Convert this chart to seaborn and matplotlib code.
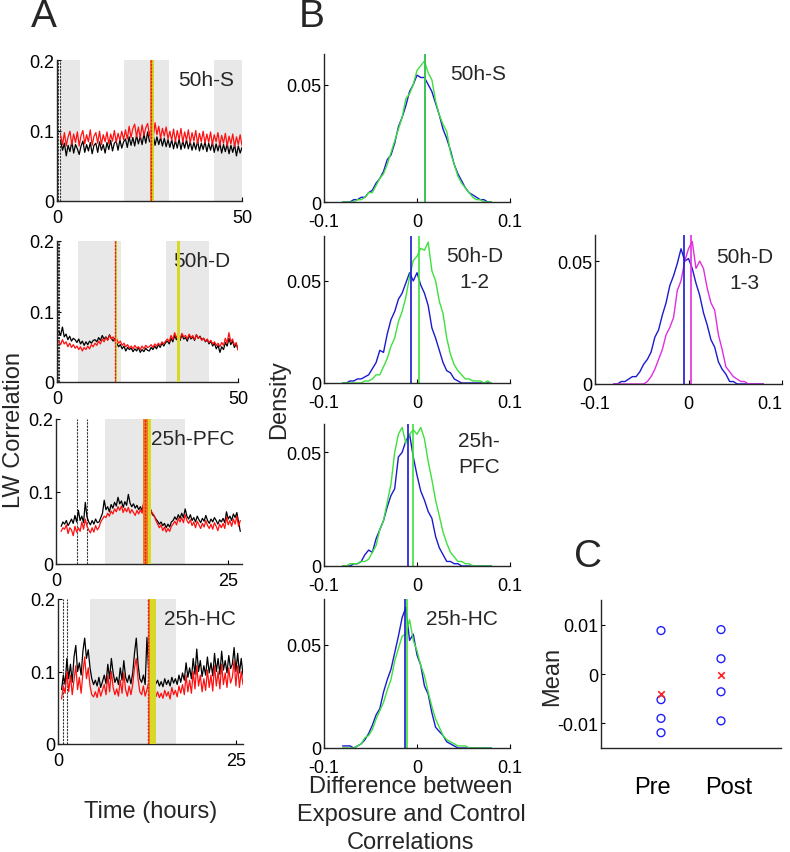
import matplotlib
matplotlib.use("Agg")
import matplotlib.pyplot as plt
import seaborn as sns
import numpy as np

# ---------------- Panel A: LW correlation time courses ----------------
a1_time = np.linspace(1, 50, 99)
a1_black = [0.085, 0.072, 0.082, 0.064, 0.079, 0.070, 0.084, 0.068, 0.080, 0.074,
            0.066, 0.078, 0.085, 0.069, 0.080, 0.071, 0.083, 0.067, 0.079, 0.082,
            0.069, 0.084, 0.072, 0.080, 0.068, 0.083, 0.073, 0.086, 0.071, 0.082,
            0.085, 0.072, 0.087, 0.075, 0.084,
            0.088, 0.076, 0.091, 0.079, 0.090, 0.078, 0.093, 0.081, 0.092, 0.080,
            0.095, 0.082, 0.098, 0.084, 0.089, 0.093, 0.079, 0.091, 0.080, 0.090,
            0.078, 0.089, 0.077, 0.087,
            0.076, 0.087, 0.074, 0.086, 0.075, 0.088, 0.073, 0.085, 0.075, 0.087,
            0.074, 0.084, 0.072, 0.083, 0.073, 0.085, 0.071, 0.082, 0.073, 0.084,
            0.070, 0.082, 0.072, 0.083, 0.069, 0.081, 0.071, 0.082, 0.068, 0.080,
            0.070, 0.081, 0.067, 0.079, 0.069, 0.080, 0.064, 0.078, 0.068, 0.076]
a1_red = [0.093, 0.080, 0.097, 0.078, 0.091, 0.099, 0.080, 0.095, 0.083, 0.098,
          0.078, 0.093, 0.100, 0.081, 0.094, 0.084, 0.101, 0.079, 0.092, 0.097,
          0.082, 0.099, 0.080, 0.094, 0.084, 0.098, 0.081, 0.095, 0.085, 0.100,
          0.083, 0.096, 0.086, 0.099, 0.087,
          0.101, 0.088, 0.106, 0.090, 0.103, 0.109, 0.091, 0.105, 0.089, 0.108,
          0.093, 0.104, 0.110, 0.092, 0.107, 0.090, 0.111, 0.094, 0.106, 0.089,
          0.103, 0.092, 0.105, 0.088,
          0.099, 0.086, 0.102, 0.084, 0.100, 0.087, 0.103, 0.083, 0.098, 0.086,
          0.101, 0.082, 0.097, 0.085, 0.100, 0.081, 0.096, 0.084, 0.099, 0.082,
          0.095, 0.083, 0.098, 0.080, 0.094, 0.084, 0.097, 0.079, 0.093, 0.082,
          0.096, 0.078, 0.092, 0.081, 0.095, 0.077, 0.091, 0.080, 0.094, 0.079]

a2_time = np.linspace(0.5, 50, 100)
a2_black = [0.072, 0.066, 0.078, 0.064, 0.068, 0.060, 0.065, 0.058, 0.062, 0.060,
            0.056, 0.061, 0.054, 0.058, 0.052, 0.057, 0.053, 0.058, 0.055, 0.059,
            0.060, 0.057, 0.063, 0.059, 0.066, 0.061, 0.064, 0.060, 0.067, 0.062,
            0.058, 0.062, 0.055, 0.050, 0.053, 0.047, 0.051, 0.044, 0.049, 0.046,
            0.048, 0.043, 0.047, 0.044, 0.049, 0.042, 0.046, 0.043, 0.048, 0.045,
            0.044, 0.049, 0.046, 0.051, 0.047, 0.053, 0.049, 0.055, 0.051, 0.056,
            0.058, 0.054, 0.062, 0.057, 0.066, 0.060, 0.064, 0.059, 0.067, 0.061,
            0.063, 0.058, 0.066, 0.061, 0.064, 0.059, 0.067, 0.062, 0.065, 0.060,
            0.062, 0.057, 0.060, 0.054, 0.058, 0.051, 0.055, 0.047, 0.052, 0.042,
            0.050, 0.046, 0.056, 0.051, 0.062, 0.053, 0.058, 0.049, 0.054, 0.047]
a2_red = [0.058, 0.053, 0.060, 0.054, 0.057, 0.050, 0.055, 0.049, 0.053, 0.048,
          0.051, 0.046, 0.050, 0.044, 0.049, 0.046, 0.051, 0.047, 0.053, 0.050,
          0.055, 0.052, 0.058, 0.054, 0.061, 0.057, 0.063, 0.059, 0.066, 0.061,
          0.064, 0.058, 0.061, 0.055, 0.058, 0.052, 0.055, 0.050, 0.053, 0.048,
          0.051, 0.047, 0.052, 0.048, 0.050, 0.046, 0.051, 0.047, 0.052, 0.049,
          0.050, 0.053, 0.049, 0.054, 0.051, 0.055, 0.052, 0.057, 0.054, 0.058,
          0.061, 0.057, 0.066, 0.060, 0.070, 0.063, 0.067, 0.061, 0.069, 0.064,
          0.066, 0.061, 0.068, 0.063, 0.066, 0.060, 0.067, 0.062, 0.064, 0.059,
          0.062, 0.058, 0.061, 0.056, 0.059, 0.054, 0.057, 0.052, 0.055, 0.050,
          0.056, 0.052, 0.062, 0.055, 0.070, 0.057, 0.061, 0.052, 0.056, 0.045]

a3_time = np.linspace(0.75, 26.75, 105)
a3_black = [0.052, 0.058,
            0.055, 0.060, 0.053, 0.057, 0.062, 0.056, 0.067, 0.058, 0.074, 0.060, 0.066, 0.057,
            0.085, 0.065, 0.058, 0.054, 0.060, 0.055, 0.062, 0.057, 0.058, 0.064, 0.070, 0.088,
            0.075, 0.079, 0.072, 0.082, 0.077, 0.085, 0.080, 0.092, 0.083, 0.087, 0.078, 0.086,
            0.081, 0.096, 0.084, 0.079, 0.083, 0.077, 0.081, 0.075, 0.079, 0.074, 0.083, 0.072,
            0.078, 0.070, 0.075, 0.068, 0.066, 0.062, 0.059, 0.055, 0.058, 0.053, 0.056, 0.050,
            0.055, 0.051, 0.058, 0.060, 0.065, 0.061, 0.068, 0.063, 0.070, 0.064, 0.076, 0.066,
            0.062, 0.068, 0.060, 0.064, 0.058, 0.066, 0.061, 0.057, 0.063, 0.059, 0.067, 0.060,
            0.056, 0.062, 0.058, 0.064, 0.060, 0.055, 0.061, 0.058, 0.063, 0.057, 0.072, 0.062,
            0.066, 0.060, 0.069, 0.064, 0.071, 0.058, 0.045]
a3_red = [0.045, 0.050,
          0.048, 0.054, 0.042, 0.050, 0.047, 0.039, 0.052, 0.044, 0.050, 0.045, 0.058, 0.048,
          0.062, 0.052, 0.047, 0.043, 0.050, 0.044, 0.053, 0.047, 0.051, 0.058, 0.062, 0.066,
          0.064, 0.070, 0.066, 0.073, 0.069, 0.076, 0.072, 0.079, 0.074, 0.080, 0.071, 0.077,
          0.072, 0.078, 0.070, 0.075, 0.071, 0.067, 0.074, 0.069, 0.075, 0.070, 0.088, 0.102,
          0.085, 0.078, 0.074, 0.070, 0.067, 0.060, 0.055, 0.050, 0.054, 0.046, 0.051, 0.044,
          0.049, 0.045, 0.052, 0.055, 0.059, 0.054, 0.063, 0.058, 0.064, 0.057, 0.068, 0.060,
          0.056, 0.061, 0.053, 0.058, 0.050, 0.059, 0.054, 0.049, 0.056, 0.051, 0.060, 0.053,
          0.049, 0.055, 0.048, 0.057, 0.052, 0.046, 0.055, 0.050, 0.056, 0.049, 0.065, 0.054,
          0.060, 0.052, 0.062, 0.055, 0.066, 0.052, 0.060]

a4_time = np.linspace(0.5, 26, 103)
a4_black = [0.075, 0.095, 0.082, 0.118, 0.090, 0.110, 0.085, 0.120, 0.136, 0.100, 0.112, 0.095,
            0.128, 0.146, 0.118, 0.130, 0.105, 0.090, 0.082, 0.088, 0.080, 0.092, 0.078, 0.086,
            0.095, 0.083, 0.110, 0.090, 0.118, 0.098, 0.085, 0.092, 0.082, 0.105, 0.088, 0.115,
            0.092, 0.085, 0.095, 0.083, 0.098, 0.125, 0.146, 0.110, 0.090, 0.085, 0.095, 0.082,
            0.147, 0.100, 0.088, 0.131, 0.095, 0.083, 0.088, 0.080, 0.086, 0.079, 0.090, 0.082,
            0.088, 0.080, 0.092, 0.084, 0.090, 0.082, 0.095, 0.085, 0.098, 0.088, 0.112, 0.092,
            0.105, 0.090, 0.118, 0.096, 0.131, 0.100, 0.115, 0.093, 0.108, 0.095, 0.120, 0.098,
            0.112, 0.094, 0.125, 0.100, 0.118, 0.096, 0.128, 0.102, 0.115, 0.098, 0.122, 0.104,
            0.110, 0.133, 0.100, 0.125, 0.098, 0.118, 0.095]
a4_red = [0.062, 0.080, 0.070, 0.100, 0.072, 0.095, 0.068, 0.088, 0.108, 0.075, 0.092, 0.070,
          0.098, 0.120, 0.090, 0.105, 0.080, 0.068, 0.065, 0.072, 0.064, 0.078, 0.066, 0.074,
          0.082, 0.068, 0.095, 0.072, 0.100, 0.078, 0.068, 0.076, 0.066, 0.088, 0.070, 0.098,
          0.075, 0.066, 0.080, 0.068, 0.082, 0.105, 0.118, 0.090, 0.072, 0.068, 0.080, 0.066,
          0.075, 0.085, 0.070, 0.098, 0.078, 0.065, 0.072, 0.064, 0.070, 0.063, 0.074, 0.066,
          0.072, 0.062, 0.078, 0.068, 0.074, 0.065, 0.080, 0.070, 0.082, 0.068, 0.095, 0.072,
          0.088, 0.070, 0.100, 0.076, 0.108, 0.080, 0.095, 0.072, 0.090, 0.074, 0.102, 0.078,
          0.095, 0.073, 0.108, 0.080, 0.100, 0.076, 0.110, 0.082, 0.098, 0.078, 0.105, 0.084,
          0.092, 0.115, 0.080, 0.108, 0.078, 0.100, 0.082]

# shaded periods, recording markers and exposure bands (hours)
a_labels = ["50h-S", "50h-D", "25h-PFC", "25h-HC"]
a_xmax = [50, 50, 27, 26]
a_xtick_max = [50, 50, 25, 25]
a_gray = [[(0.8, 6.2), (18.1, 30.3), (42.4, 50)],
          [(5.8, 17.7), (30.1, 42.0)],
          [(7.1, 18.75)],
          [(4.5, 16.6)]]
a_dashed = [[0.4, 0.9], [0.2, 0.5], [3.0, 4.5], [0.75, 1.22]]
a_red_band = [[(25.1, 25.7)], [(15.9, 16.3)], [(12.7, 13.3)], [(12.6, 12.9)]]
a_yellow_band = [[(25.7, 26.2)], [(16.3, 16.6), (33.1, 34.0)], [(13.3, 13.8)], [(12.9, 13.8)]]

# ---------------- Panel B: density of correlation differences ----------------
diff_grid = np.linspace(-0.08, 0.08, 41)
b1_blue = [0, 0, 0, 0.001, 0.001, 0.002, 0.002, 0.004, 0.005, 0.008, 0.010, 0.013, 0.018, 0.020, 0.025, 0.032,
           0.036, 0.041, 0.047, 0.050, 0.054, 0.053, 0.053, 0.050, 0.047, 0.042, 0.037, 0.031, 0.027, 0.022,
           0.016, 0.012, 0.009, 0.006, 0.004, 0.003, 0.002, 0.001, 0.001, 0, 0]
b1_green = [0, 0, 0, 0, 0.001, 0.001, 0.002, 0.004, 0.004, 0.007, 0.010, 0.012, 0.016, 0.021, 0.026, 0.031,
            0.036, 0.044, 0.046, 0.050, 0.056, 0.058, 0.060, 0.055, 0.052, 0.043, 0.037, 0.033, 0.030, 0.021,
            0.016, 0.011, 0.008, 0.006, 0.004, 0.002, 0.001, 0.001, 0, 0, 0]
b2_blue = [0, 0, 0.001, 0.001, 0.002, 0.002, 0.003, 0.004, 0.007, 0.010, 0.016, 0.015, 0.024, 0.031, 0.035,
           0.041, 0.044, 0.049, 0.054, 0.050, 0.054, 0.048, 0.044, 0.038, 0.027, 0.022, 0.016, 0.010, 0.006,
           0.005, 0.002, 0.001, 0, 0, 0, 0, 0, 0, 0, 0, 0]
b2_green = [0, 0, 0, 0, 0, 0, 0.001, 0.001, 0.002, 0.004, 0.004, 0.008, 0.012, 0.018, 0.022, 0.030, 0.035,
            0.042, 0.052, 0.060, 0.062, 0.066, 0.065, 0.069, 0.055, 0.050, 0.040, 0.034, 0.022, 0.014, 0.009,
            0.006, 0.004, 0.002, 0.002, 0.001, 0.001, 0.001, 0, 0.001, 0]
b3_blue = [0, 0, 0, 0.001, 0.001, 0.002, 0.005, 0.007, 0.006, 0.012, 0.016, 0.020, 0.026, 0.031, 0.034, 0.048,
           0.050, 0.055, 0.058, 0.048, 0.040, 0.033, 0.029, 0.024, 0.021, 0.013, 0.008, 0.005, 0.002, 0.002,
           0.001, 0.001, 0, 0, 0, 0, 0, 0, 0, 0, 0]
b3_green = [0, 0, 0.001, 0.001, 0.001, 0.002, 0.002, 0.003, 0.006, 0.009, 0.016, 0.020, 0.028, 0.036, 0.050,
            0.058, 0.061, 0.054, 0.058, 0.060, 0.058, 0.061, 0.056, 0.046, 0.038, 0.029, 0.022, 0.015, 0.010,
            0.006, 0.004, 0.002, 0.002, 0.001, 0.001, 0, 0, 0, 0, 0, 0]
b4_blue = [0.001, 0.001, 0.001, 0, 0.001, 0.002, 0.004, 0.007, 0.011, 0.016, 0.019, 0.027, 0.033, 0.038, 0.046,
           0.054, 0.063, 0.068, 0.052, 0.055, 0.045, 0.040, 0.030, 0.026, 0.017, 0.010, 0.008, 0.006, 0.003,
           0.002, 0.001, 0, 0, 0, 0, 0, 0, 0, 0, 0, 0]
b4_green = [0, 0, 0, 0, 0.001, 0.002, 0.005, 0.006, 0.009, 0.014, 0.018, 0.022, 0.028, 0.033, 0.042, 0.048,
            0.054, 0.055, 0.062, 0.052, 0.047, 0.040, 0.035, 0.027, 0.020, 0.014, 0.010, 0.006, 0.004, 0.003,
            0.002, 0.001, 0.001, 0.001, 0, 0, 0, 0, 0, 0, 0]
b5_blue = [0, 0, 0.001, 0.001, 0.002, 0.003, 0.003, 0.005, 0.008, 0.010, 0.013, 0.019, 0.022, 0.028, 0.033,
           0.040, 0.044, 0.049, 0.055, 0.050, 0.051, 0.047, 0.041, 0.036, 0.029, 0.024, 0.018, 0.015, 0.009,
           0.006, 0.004, 0.001, 0.001, 0, 0, 0, 0, 0, 0, 0, 0]
b5_magenta = [0, 0, 0, 0, 0, 0, 0, 0, 0, 0.001, 0.003, 0.006, 0.010, 0.014, 0.020, 0.023, 0.027, 0.038, 0.042,
              0.050, 0.055, 0.058, 0.047, 0.050, 0.047, 0.039, 0.033, 0.030, 0.020, 0.014, 0.007, 0.005, 0.003,
              0.002, 0.001, 0.001, 0, 0, 0, 0, 0]

# mean lines for each distribution
b_means = {"b1": (0.0087, 0.0087), "b2": (-0.0065, 0.002), "b3": (-0.010, -0.004),
           "b4": (-0.013, -0.011), "b5": (-0.005, 0.003)}
b_ytop = {"b1": 0.063, "b2": 0.072, "b3": 0.0625, "b4": 0.072, "b5": 0.0606}

# ---------------- Panel C: means pre / post ----------------
c_groups = ["Pre", "Post"]
c_pre = [0.0088, -0.0052, -0.0090, -0.0119]
c_post = [0.0090, 0.0031, -0.0036, -0.0095]
c_pre_mean = -0.0041
c_post_mean = -0.0002

# ---------------- style ----------------
sns.set_style("ticks")
plt.rcParams['font.family'] = ['Liberation Sans', 'DejaVu Sans']
plt.rcParams['axes.linewidth'] = 1.0

W, H = 790, 853
fig = plt.figure(figsize=(W / 100, H / 100), dpi=100)

BLUE = "#1a1ad0"
GREEN = "#3ee03e"
MAGENTA = "#e02ee0"
RED = "#ff1010"
YELLOW = "#d8d828"
ORANGE = "#f07a20"
GRAY = "#e8e8e8"


def add_ax(left, top, right, bottom):
    return fig.add_axes([left / W, 1 - bottom / H, (right - left) / W, (bottom - top) / H])


def style_ax(ax, xpad=6):
    sns.despine(ax=ax)
    ax.tick_params(direction='in', length=3, labelsize=13, pad=2, colors='black')
    ax.tick_params(axis='x', pad=xpad)
    ax.set_xlabel('')
    ax.set_ylabel('')


# Panel A
a_boxes = [(57, 61, 242, 202), (57, 242, 238, 383), (56, 420, 242, 565), (58, 600, 243, 745)]
a_data = [(a1_time, a1_black, a1_red), (a2_time, a2_black, a2_red),
          (a3_time, a3_black, a3_red), (a4_time, a4_black, a4_red)]
for i in range(4):
    ax = add_ax(*a_boxes[i])
    for lo, hi in a_gray[i]:
        ax.axvspan(lo, hi, color=GRAY, lw=0, zorder=0)
    for xd in a_dashed[i]:
        ax.axvline(xd, color='#333333', lw=0.8, ls=(0, (2, 1)), zorder=1)
    t, blk, red = a_data[i]
    sns.lineplot(x=t, y=blk, ax=ax, color='black', lw=0.9, estimator=None, zorder=2)
    sns.lineplot(x=t, y=red, ax=ax, color=RED, lw=0.9, estimator=None, zorder=3)
    for lo, hi in a_yellow_band[i]:
        ax.axvspan(lo, hi, color=YELLOW, lw=0, zorder=4)
    for lo, hi in a_red_band[i]:
        ax.axvspan(lo, hi, color=ORANGE, lw=0, zorder=4)
        ax.axvline(lo + (hi - lo) * 0.35, color='#e02010', lw=1.0, ls=(0, (1.5, 1)), zorder=5)
    ax.set_xlim(0, a_xmax[i])
    ax.set_ylim(0, 0.2)
    ax.set_xticks([0, a_xtick_max[i]])
    ax.set_xticklabels(['0', str(a_xtick_max[i])])
    ax.set_yticks([0, 0.1, 0.2])
    ax.set_yticklabels(['0', '0.1', '0.2'])
    style_ax(ax)
    ax.text(0.96, 0.93, a_labels[i], transform=ax.transAxes, ha='right', va='top', fontsize=15)

# Panel B
b_boxes = {"b1": (324, 55, 510, 203), "b2": (324, 237, 510, 384), "b3": (324, 425, 510, 567),
           "b4": (324, 600, 510, 749), "b5": (595, 236, 782, 385)}
b_curves = {"b1": (b1_blue, b1_green, GREEN), "b2": (b2_blue, b2_green, GREEN),
            "b3": (b3_blue, b3_green, GREEN), "b4": (b4_blue, b4_green, GREEN),
            "b5": (b5_blue, b5_magenta, MAGENTA)}
b_text = {"b1": ("50h-S", 0.68, 0.93, 'left'), "b2": ("50h-D\n1-2", 0.81, 0.93, 'center'),
          "b3": ("25h-\nPFC", 0.72, 0.95, 'left'), "b4": ("25h-HC", 0.55, 0.93, 'left'),
          "b5": ("50h-D\n1-3", 0.80, 0.92, 'center')}
for key, box in b_boxes.items():
    ax = add_ax(*box)
    blue, other, col = b_curves[key]
    sns.lineplot(x=diff_grid, y=blue, ax=ax, color=BLUE, lw=1.0, estimator=None)
    sns.lineplot(x=diff_grid, y=other, ax=ax, color=col, lw=1.0, estimator=None)
    mb, mo = b_means[key]
    ax.axvline(mb, color=BLUE, lw=1.2)
    ax.axvline(mo, color=col, lw=1.2)
    ax.set_xlim(-0.1, 0.1)
    ax.set_ylim(0, b_ytop[key])
    ax.set_xticks([-0.1, 0, 0.1])
    ax.set_xticklabels(['-0.1', '0', '0.1'])
    ax.set_yticks([0, 0.05])
    ax.set_yticklabels(['0', '0.05'])
    style_ax(ax, xpad=8)
    for lbl in ax.get_yticklabels():
        lbl.set_verticalalignment('center_baseline')
    if key == "b5":
        ax.get_xticklabels()[-1].set_horizontalalignment('right')
    txt, tx, ty, ha = b_text[key]
    ax.text(tx, ty, txt, transform=ax.transAxes, ha=ha, va='top', fontsize=15,
            linespacing=1.45, multialignment='center')

# Panel C
ax = add_ax(601, 601, 781, 749)
sns.scatterplot(x=[1] * len(c_pre), y=c_pre, ax=ax, marker='o', s=32, facecolor='none',
                edgecolor='#2020ff', linewidth=1.0)
sns.scatterplot(x=[2] * len(c_post), y=c_post, ax=ax, marker='o', s=32, facecolor='none',
                edgecolor='#2020ff', linewidth=1.0)
sns.scatterplot(x=[1, 2], y=[c_pre_mean, c_post_mean], ax=ax, marker='x', s=22, color='#ff2020',
                linewidth=1.2)
ax.set_xlim(0, 3)
ax.set_ylim(-0.015, 0.015)
ax.set_yticks([-0.01, 0, 0.01])
ax.set_yticklabels(['-0.01', '0', '0.01'])
style_ax(ax)
ax.set_xticks([0.85, 2.12])
ax.set_xticklabels(c_groups, fontsize=17)
ax.tick_params(axis='x', length=0, pad=20)

# axis labels and panel letters
fig.text(14 / W, 1 - 430 / H, 'LW Correlation', rotation=90, ha='center', va='center', fontsize=17)
fig.text(151 / W, 1 - 812 / H, 'Time (hours)', ha='center', va='center', fontsize=17)
fig.text(279 / W, 1 - 400 / H, 'Density', rotation=90, ha='center', va='center', fontsize=17)
fig.text(552 / W, 1 - 676 / H, 'Mean', rotation=90, ha='center', va='center', fontsize=17)
fig.text(411 / W, 1 - 815 / H, 'Difference between\nExposure and Control\nCorrelations',
         ha='center', va='center', fontsize=17, linespacing=1.35)
fig.text(44 / W, 1 - 17 / H, 'A', ha='center', va='center', fontsize=28)
fig.text(312 / W, 1 - 17 / H, 'B', ha='center', va='center', fontsize=28)
fig.text(588 / W, 1 - 557 / H, 'C', ha='center', va='center', fontsize=28)

fig.savefig('out.png', dpi=100)
